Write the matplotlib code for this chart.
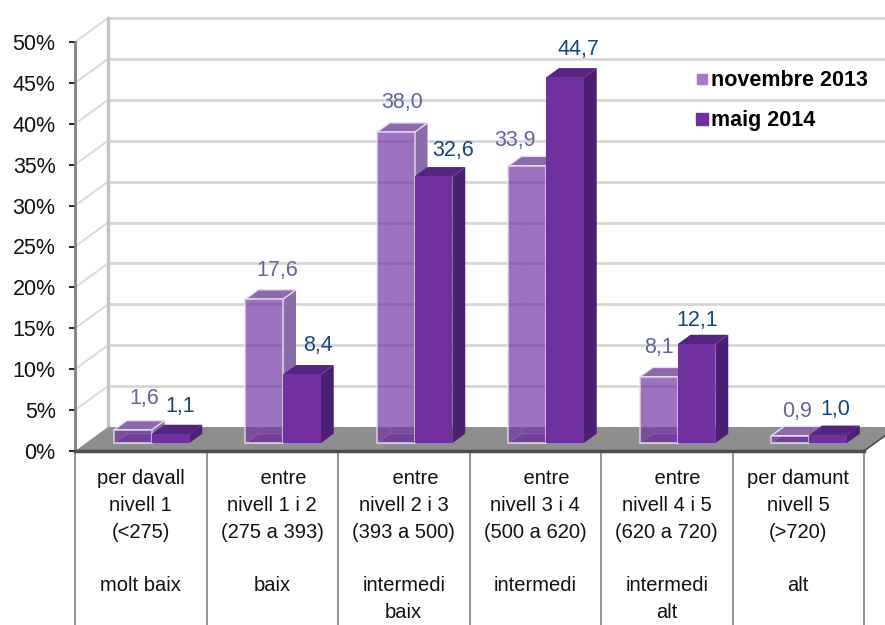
import matplotlib
matplotlib.use('Agg')
import matplotlib.pyplot as plt
from matplotlib.lines import Line2D
from matplotlib.patches import Polygon

plt.rcParams['font.family'] = ['Liberation Sans', 'DejaVu Sans']

categories = [
    'per davall\nnivell 1\n(<275)\n\nmolt baix\n',
    '    entre\nnivell 1 i 2\n(275 a 393)\n\nbaix\n',
    '    entre\nnivell 2 i 3\n(393 a 500)\n\nintermedi\nbaix',
    '    entre\nnivell 3 i 4\n(500 a 620)\n\nintermedi\n',
    '    entre\nnivell 4 i 5\n(620 a 720)\n\nintermedi\nalt',
    'per damunt\nnivell 5\n(>720)\n\nalt\n',
]
nov_2013 = [1.6, 17.6, 38.0, 33.9, 8.1, 0.9]
maig_2014 = [1.1, 8.4, 32.6, 44.7, 12.1, 1.0]
y_ticks = [0, 5, 10, 15, 20, 25, 30, 35, 40, 45, 50]

# label offsets from the bar's front top, in pixels (placed by hand in the original)
nov_offsets = [(11, 31), (13, 29), (6, 30), (-12, 25), (0, 29), (7, 24)]
maig_offsets = [(10, 28), (16, 29), (20, 26), (13, 28), (1, 24), (7, 25)]

# oblique projection of the fake 3d depth, in data units
DX = 33 / 131.5
DV = 24 / 8.18
BAR_W = 0.287
D_FRONT = 0.33
D_BACK = 0.72


def proj(x, v, d):
    return x + d * DX, v + d * DV


def draw_bar(ax, x0, value, front, side, top, edge, alpha, z):
    x1 = x0 + BAR_W
    if alpha < 1:
        # see-through bar: the hidden faces show through
        hidden = [proj(x0, 0, D_FRONT), proj(x1, 0, D_FRONT), proj(x1, 0, D_BACK), proj(x0, 0, D_BACK)]
        ax.add_patch(Polygon(hidden, fc=front, ec=edge, lw=1, alpha=0.5, clip_on=False, zorder=z))
        ax.plot(*zip(proj(x0, 0, D_BACK), proj(x0, value, D_BACK)), color=edge, lw=0.8, alpha=0.5,
                clip_on=False, zorder=z)
    right = [proj(x1, 0, D_FRONT), proj(x1, 0, D_BACK), proj(x1, value, D_BACK), proj(x1, value, D_FRONT)]
    lid = [proj(x0, value, D_FRONT), proj(x1, value, D_FRONT), proj(x1, value, D_BACK), proj(x0, value, D_BACK)]
    face = [proj(x0, 0, D_FRONT), proj(x1, 0, D_FRONT), proj(x1, value, D_FRONT), proj(x0, value, D_FRONT)]
    ax.add_patch(Polygon(right, fc=side, ec='none', clip_on=False, zorder=z))
    ax.add_patch(Polygon(lid, fc=top, ec=edge, lw=1 if alpha < 1 else 0, clip_on=False, zorder=z))
    ax.add_patch(Polygon(face, fc=front, ec=edge, lw=1.5 if alpha < 1 else 0, alpha=alpha if alpha < 1 else None,
                         clip_on=False, zorder=z))


fig = plt.figure(figsize=(8.85, 6.25), dpi=100)
ax = fig.add_axes([75 / 885, 174 / 625, 789 / 885, 409 / 625])
ax.set_xlim(0, 6)
ax.set_ylim(0, 50)

# back wall and side wall gridlines
for v in y_ticks:
    if v > 0:
        ax.plot(*zip(proj(0, v, 0), proj(0, v, 1)), color='#dcdcdc', lw=1.5, clip_on=False, zorder=1)
        ax.plot(*zip(proj(0, v, 1), proj(6, v, 1)), color='#d6d6d6', lw=2, clip_on=False, zorder=1)
ax.plot(*zip(proj(0, 0, 1), proj(0, 50, 1)), color='#c4c4c4', lw=2.5, clip_on=False, zorder=1)

# floor
floor = [proj(0, 0, 0), proj(6, 0, 0), proj(6, 0, 1), proj(0, 0, 1)]
ax.add_patch(Polygon(floor, fc='#8e8e8e', ec='none', clip_on=False, zorder=2))
ax.plot([0, 6], [0, 0], color='#4d4d4d', lw=2.5, clip_on=False, zorder=3)
ax.plot(*zip(proj(6, 0, 0), proj(6, 0, 1)), color='#4d4d4d', lw=1.2, clip_on=False, zorder=3)

# bars
for i in range(len(categories)):
    x_nov = i + 0.5 - BAR_W
    x_maig = i + 0.5
    draw_bar(ax, x_nov, nov_2013[i], '#7030a0', '#8a6ca8', '#8d68ab', '#e8dff0', 0.68, 4 + 2 * i)
    draw_bar(ax, x_maig, maig_2014[i], '#7030a0', '#4b2070', '#54247e', '#7030a0', 1, 5 + 2 * i)

    x, y = proj(x_nov + BAR_W / 2, nov_2013[i], D_FRONT)
    ax.annotate(f'{nov_2013[i]:.1f}'.replace('.', ','), (x, y), xytext=nov_offsets[i], textcoords='offset pixels',
                ha='center', va='center', fontsize=15.5, color='#63659f', annotation_clip=False, zorder=30)
    x, y = proj(x_maig + BAR_W / 2, maig_2014[i], D_FRONT)
    ax.annotate(f'{maig_2014[i]:.1f}'.replace('.', ','), (x, y), xytext=maig_offsets[i], textcoords='offset pixels',
                ha='center', va='center', fontsize=15.5, color='#17477a', annotation_clip=False, zorder=30)

# category table under the axis
ax.vlines(range(len(categories) + 1), -21.3, 0, color='#808080', lw=1.2, clip_on=False, zorder=2)

ax.set_xticks([i + 0.5 for i in range(len(categories))])
ax.set_xticklabels(categories, fontsize=14.5, linespacing=1.52, color='#111111')
ax.tick_params(axis='x', length=0, pad=13)
ax.set_yticks(y_ticks)
ax.set_yticklabels([f'{v}%' for v in y_ticks], fontsize=15.5, color='#111111')
ax.tick_params(axis='y', length=4, width=1.2, color='black', pad=10)

for name in ['top', 'right', 'bottom']:
    ax.spines[name].set_visible(False)
ax.spines['left'].set_color('#7f7f7f')
ax.spines['left'].set_linewidth(2)
ax.patch.set_visible(False)

handles = [
    Line2D([], [], marker='s', ls='none', ms=7, color='#a67cc4', label='novembre 2013'),
    Line2D([], [], marker='s', ls='none', ms=8.5, color='#7030a0', label='maig 2014'),
]
leg = ax.legend(handles=handles, loc='upper left', bbox_to_anchor=(0.767, 0.931), frameon=False,
                prop={'size': 15.5, 'weight': 'bold'}, labelspacing=0.88, handletextpad=-0.55,
                borderpad=0, borderaxespad=0)
leg.set_zorder(40)

fig.savefig('out.png', dpi=100)
